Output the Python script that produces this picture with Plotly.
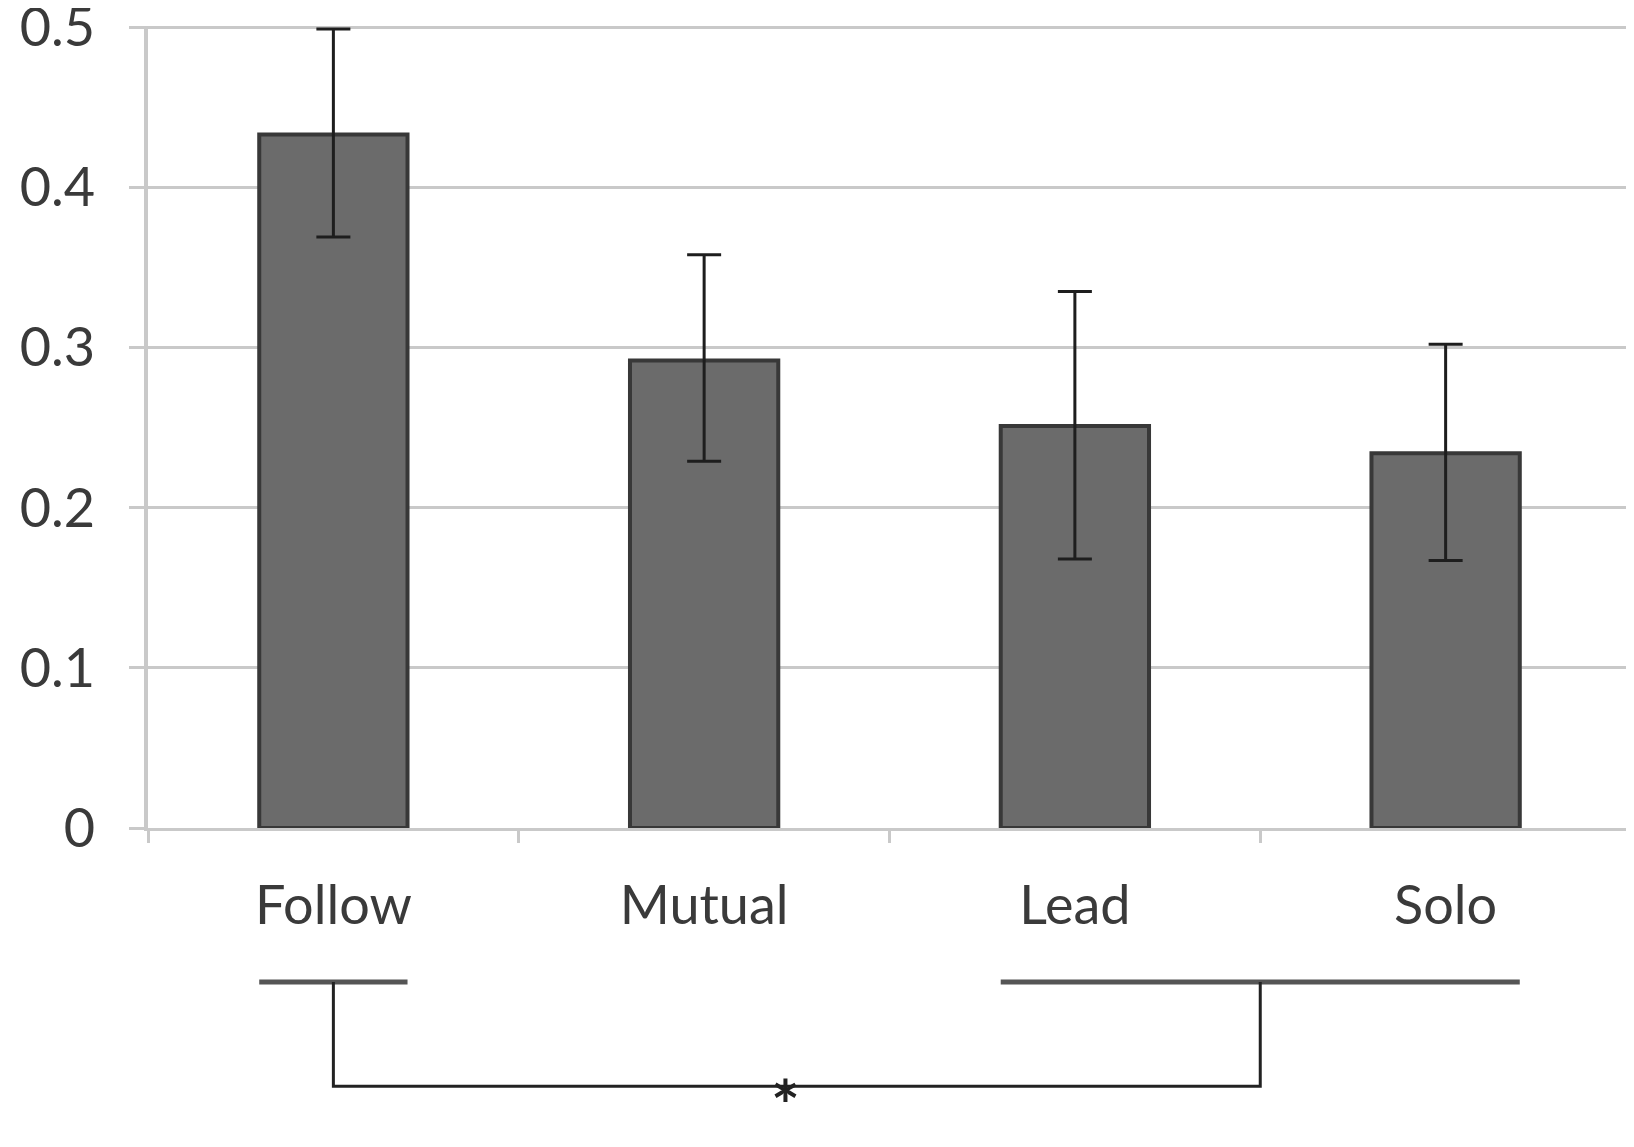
import plotly.graph_objects as go

categories = ["Follow", "Mutual", "Lead", "Solo"]
means = [0.433, 0.292, 0.251, 0.234]
errors_plus = [0.066, 0.066, 0.084, 0.068]
errors_minus = [0.064, 0.063, 0.083, 0.067]
y_ticks = [0, 0.1, 0.2, 0.3, 0.4, 0.5]
y_tick_labels = ["0", "0.1", "0.2", "0.3", "0.4", "0.5"]

FONT = "Lato"
TXT = "#3a3a3a"
GRID = "#c9c9c9"

fig = go.Figure()
fig.add_trace(go.Bar(
    x=categories, y=means,
    marker=dict(color="#6b6b6b", line=dict(color="#383838", width=4)),
    error_y=dict(type="data", symmetric=False, array=errors_plus, arrayminus=errors_minus,
                 color="#1e1e1e", thickness=3, width=17),
    width=0.4,
))

n = len(categories)
xmin, xmax = -0.5, n - 0.5


def px(v):
    return (v - xmin) / (xmax - xmin)


half = 0.2
y_under = -0.192
y_brack = -0.322
shapes = [
    dict(type="line", xref="paper", yref="paper", x0=px(0 - half), x1=px(0 + half),
         y0=y_under, y1=y_under, line=dict(color="#555555", width=5)),
    dict(type="line", xref="paper", yref="paper", x0=px(2 - half), x1=px(3 + half),
         y0=y_under, y1=y_under, line=dict(color="#555555", width=5)),
    dict(type="path", xref="paper", yref="paper",
         path=f"M {px(0)},{y_under} L {px(0)},{y_brack} L {px(2.5)},{y_brack} L {px(2.5)},{y_under}",
         line=dict(color="#222222", width=3)),
]

fig.update_layout(
    width=1634, height=1147,
    margin=dict(l=140, r=11, t=18, b=327, autoexpand=False),
    paper_bgcolor="white", plot_bgcolor="white",
    showlegend=False,
    font=dict(family=FONT, color=TXT, size=54),
    shapes=shapes,
    annotations=[dict(text="<b>*</b>", xref="paper", yref="paper", x=px(1.22), y=-0.396,
                      yanchor="bottom", showarrow=False, borderpad=0,
                      font=dict(size=68, color="#222222", family=FONT))],
    xaxis=dict(range=[xmin, xmax], showline=True, linecolor=GRID, linewidth=3, automargin=False,
               ticks="outside", tickson="boundaries", ticklen=12, tickcolor=GRID, tickwidth=3,
               showgrid=False, tickfont=dict(size=54, color=TXT, family=FONT),
               ticklabelstandoff=28),
    yaxis=dict(range=[0, 0.5008], tickvals=y_ticks, ticktext=y_tick_labels, automargin=False,
               showline=True, linecolor=GRID, linewidth=4,
               showgrid=True, gridcolor=GRID, gridwidth=3, zeroline=False,
               ticks="outside", ticklen=15, tickcolor=GRID, tickwidth=3,
               ticklabeloverflow="allow",
               tickfont=dict(size=54, color=TXT, family=FONT), ticklabelstandoff=23),
)

fig.write_html("out.html")
